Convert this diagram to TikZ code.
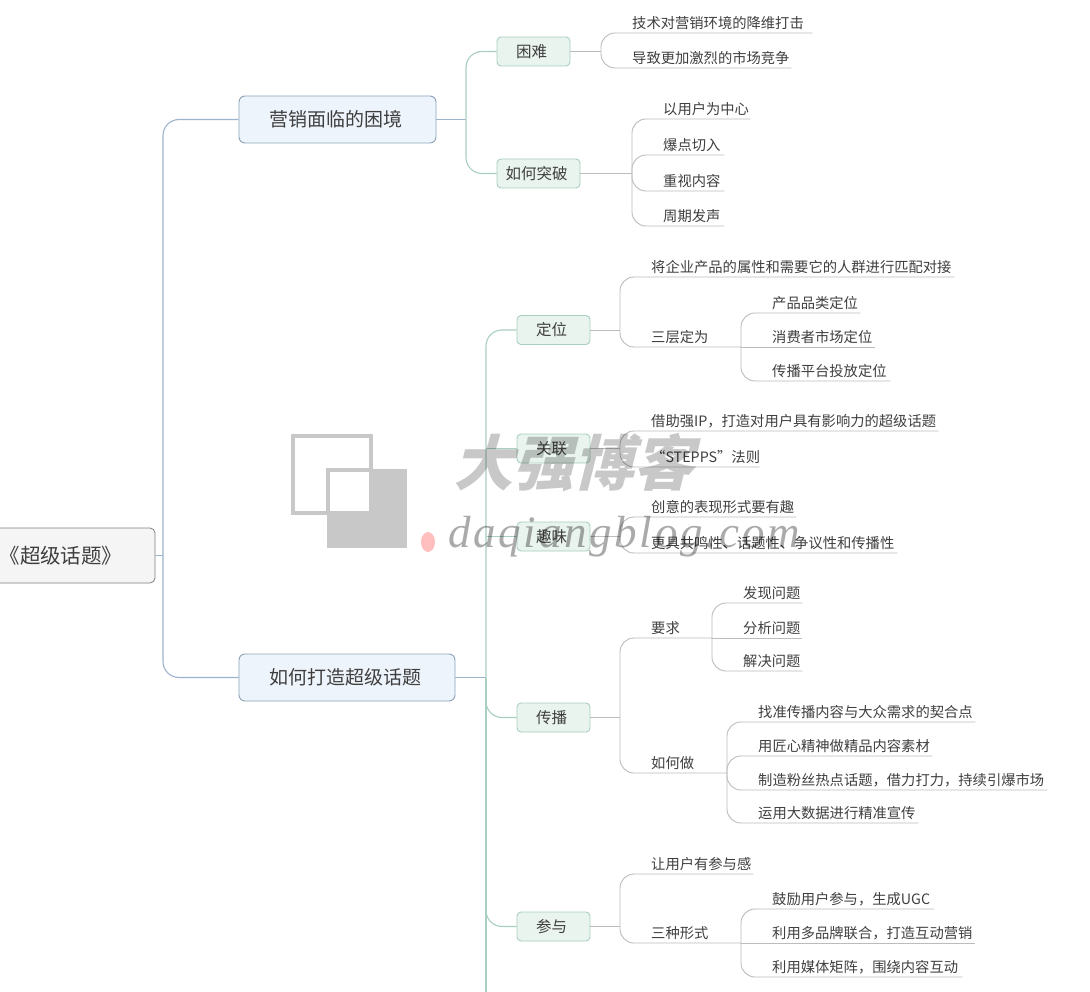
\documentclass[tikz,border=0pt]{standalone}
\usepackage{fontspec}
\usetikzlibrary{positioning}
\setmainfont{Noto Sans CJK SC}
\newfontfamily\wmcjk[FakeSlant=0.25]{Noto Sans CJK SC}
\newfontfamily\wmlatin[LetterSpace=6]{Liberation Serif}
\definecolor{inkc}{HTML}{3F3F3F}
\definecolor{bluel}{HTML}{9DB4CE}
\definecolor{greenl}{HTML}{A9CFC0}
\definecolor{grayl}{HTML}{B9BDBC}
\definecolor{wmc}{HTML}{C8C8C8}
\definecolor{mainf}{HTML}{EEF4FB}
\definecolor{subf}{HTML}{E9F4EE}
\begin{document}
\begin{tikzpicture}[x=1pt,y=-1pt]
        \tikzset{
            rootbox/.style={draw=black!50,fill=black!4,rounded corners=5,minimum width=188,minimum height=55,font=\fontsize{20.5}{22}\selectfont,text=inkc,line width=0.8},
            mainbox/.style={draw=bluel!90!black,fill=mainf,rounded corners=6,minimum height=47,font=\fontsize{19}{19}\selectfont,text=inkc,line width=0.9,execute at end node={\kern4pt}},
            subbox/.style={draw=greenl,fill=subf,rounded corners=4,minimum height=29,font=\fontsize{15.5}{16}\selectfont,text=inkc,line width=0.9,execute at end node={\kern4pt}},
            leaf/.style={anchor=south west,inner xsep=0,inner ysep=1.5,text height=12,text depth=2.5,font=\fontsize{14.3}{15}\selectfont,text=inkc},
            wideleaf/.style={leaf,text width=#1},
            bluelink/.style={draw=bluel,line width=1.1,rounded corners=16},
            greenlink/.style={draw=greenl,line width=1.1,rounded corners=16},
            graylink/.style={draw=grayl,line width=0.9,rounded corners=14}
        }
        \useasboundingbox (0,0) rectangle (1090,992);
        \fill[white] (0,0) rectangle (1090,992);

        % watermark squares
        \fill[wmc] (327,469) rectangle (407,548);
        \draw[wmc,line width=3.5] (293,436) rectangle (371,513);
        \draw[wmc,line width=3.5,fill=white] (328,470) rectangle (371,513);
        \fill[red!25] (428,542) ellipse (7 and 10);

        \node[rootbox] (root) at (61,555.5) {《超级话题》};
        \node[mainbox,minimum width=197] (kunjing) at (337.5,119.5) {营销面临的困境};
        \node[mainbox,minimum width=216] (dazao) at (347,677.5) {如何打造超级话题};

        \node[subbox,minimum width=73] (kunnan) at (533.5,51.5) {困难};
        \node[subbox,minimum width=83] (tupo) at (538.5,173.5) {如何突破};
        \node[subbox,minimum width=73] (dingwei) at (553.5,330) {定位};
        \node[subbox,minimum width=73] (guanlian) at (553.5,448.5) {关联};
        \node[subbox,minimum width=73] (quwei) at (553.5,536.5) {趣味};
        \node[subbox,minimum width=73] (chuanbo) at (553.5,717.5) {传播};
        \node[subbox,minimum width=73] (canyu) at (553.5,926.5) {参与};

        \coordinate (rootj) at (163,555.5);
        \coordinate (kunjingj) at (466,119.5);
        \coordinate (dazaoj) at (486,677.5);
        \coordinate (trunkend) at (486,1000);
        \coordinate (kunnanj) at (601,51.5);
        \coordinate (tupoj) at (632,173.5);
        \coordinate (dingweij) at (620,330);
        \coordinate (guanlianj) at (620,448.5);
        \coordinate (quweij) at (620,536.5);
        \coordinate (chuanboj) at (620,717.5);
        \coordinate (canyuj) at (620,926.5);
        \coordinate (sancengj) at (741,347);
        \coordinate (yaoqiuj) at (712,638);
        \coordinate (ruhezuoj) at (727,773);
        \coordinate (xingshij) at (741,943);

        % first level
        \draw[bluelink] (root.east) -- (rootj);
        \draw[bluelink] (rootj) |- (kunjing.west);
        \draw[bluelink] (rootj) |- (dazao.west);

        \draw[bluelink] (kunjing.east) -- (kunjingj);
        \draw[greenlink] (kunjingj) |- (kunnan.west);
        \draw[greenlink] (kunjingj) |- (tupo.west);

        \draw[bluelink] (dazao.east) -- (dazaoj);
        \draw[greenlink] (dazaoj) |- (dingwei.west);
        \draw[greenlink] (guanlian.west -| dazaoj) -- (guanlian.west);
        \draw[greenlink] (quwei.west -| dazaoj) -- (quwei.west);
        \draw[greenlink] (dazaoj) |- (chuanbo.west);
        \draw[greenlink] (dazaoj) |- (canyu.west);
        \draw[greenlink] (dazaoj) -- (trunkend);

        % kunnan
        \node[wideleaf=180] (jishu) at (632,33) {技术对营销环境的降维打击};
        \node[wideleaf=159] (daozhi) at (632,68) {导致更加激烈的市场竞争};
        \draw[graylink] (kunnan.east) -- (kunnanj);
        \draw[graylink] (kunnanj) |- (jishu.south west) -- (jishu.south east);
        \draw[graylink] (kunnanj) |- (daozhi.south west) -- (daozhi.south east);

        % tupo
        \node[wideleaf=87] (yonghu) at (663,119) {以用户为中心};
        \node[wideleaf=61] (baodian) at (663,155) {爆点切入};
        \node[wideleaf=61] (neirong) at (663,191) {重视内容};
        \node[wideleaf=61] (zhouqi) at (663,226) {周期发声};
        \draw[graylink] (tupo.east) -- (tupoj);
        \draw[graylink] (tupoj) |- (yonghu.south west) -- (yonghu.south east);
        \draw[graylink] (tupoj) |- (baodian.south west) -- (baodian.south east);
        \draw[graylink] (tupoj) |- (neirong.south west) -- (neirong.south east);
        \draw[graylink] (tupoj) |- (zhouqi.south west) -- (zhouqi.south east);

        % dingwei
        \node[wideleaf=303] (pipei) at (651,277) {将企业产品的属性和需要它的人群进行匹配对接};
        \node[leaf] (sanceng) at (651,347) {三层定为};
        \node[wideleaf=88] (pinlei) at (772,313) {产品品类定位};
        \node[wideleaf=103] (shichang) at (772,347) {消费者市场定位};
        \node[wideleaf=118] (pingtai) at (772,381) {传播平台投放定位};
        \draw[graylink] (dingwei.east) -- (dingweij);
        \draw[graylink] (dingweij) |- (pipei.south west) -- (pipei.south east);
        \draw[graylink] (dingweij) |- (sanceng.south west) -- (sancengj);
        \draw[graylink] (sancengj) |- (pinlei.south west) -- (pinlei.south east);
        \draw[graylink] (sancengj) -- (shichang.south east);
        \draw[graylink] (sancengj) |- (pingtai.south west) -- (pingtai.south east);

        % guanlian
        \node[wideleaf=287] (qiangip) at (651,431) {借助强IP，打造对用户具有影响力的超级话题};
        \node[wideleaf=108] (stepps) at (651,467) {“STEPPS”法则};
        \draw[graylink] (guanlian.east) -- (guanlianj);
        \draw[graylink] (guanlianj) |- (qiangip.south west) -- (qiangip.south east);
        \draw[graylink] (guanlianj) |- (stepps.south west) -- (stepps.south east);

        % quwei
        \node[wideleaf=145] (chuangyi) at (651,517) {创意的表现形式要有趣};
        \node[wideleaf=246] (gongming) at (651,553) {更具共鸣性、话题性、争议性和传播性};
        \draw[graylink] (quwei.east) -- (quweij);
        \draw[graylink] (quweij) |- (chuangyi.south west) -- (chuangyi.south east);
        \draw[graylink] (quweij) |- (gongming.south west) -- (gongming.south east);

        % chuanbo
        \node[leaf] (yaoqiu) at (651,638) {要求};
        \node[leaf] (ruhezuo) at (651,773) {如何做};
        \node[wideleaf=59] (faxian) at (743,603) {发现问题};
        \node[wideleaf=59] (fenxi) at (743,638) {分析问题};
        \node[wideleaf=59] (jiejue) at (743,671) {解决问题};
        \node[wideleaf=217] (qihe) at (758,722) {找准传播内容与大众需求的契合点};
        \node[wideleaf=174] (jiangxin) at (758,756) {用匠心精神做精品内容素材};
        \node[wideleaf=289] (fensi) at (758,790) {制造粉丝热点话题，借力打力，持续引爆市场};
        \node[wideleaf=160] (dashuju) at (758,823) {运用大数据进行精准宣传};
        \draw[graylink] (chuanbo.east) -- (chuanboj);
        \draw[graylink] (chuanboj) |- (yaoqiu.south west) -- (yaoqiuj);
        \draw[graylink] (chuanboj) |- (ruhezuo.south west) -- (ruhezuoj);
        \draw[graylink] (yaoqiuj) |- (faxian.south west) -- (faxian.south east);
        \draw[graylink] (yaoqiuj) -- (fenxi.south east);
        \draw[graylink] (yaoqiuj) |- (jiejue.south west) -- (jiejue.south east);
        \draw[graylink] (ruhezuoj) |- (qihe.south west) -- (qihe.south east);
        \draw[graylink] (ruhezuoj) |- (jiangxin.south west) -- (jiangxin.south east);
        \draw[graylink] (ruhezuoj) |- (fensi.south west) -- (fensi.south east);
        \draw[graylink] (ruhezuoj) |- (dashuju.south west) -- (dashuju.south east);

        % canyu
        \node[wideleaf=102] (cangyugan) at (651,874) {让用户有参与感};
        \node[leaf] (xingshi) at (651,943) {三种形式};
        \node[wideleaf=162] (guli) at (772,909) {鼓励用户参与，生成UGC};
        \node[wideleaf=203] (duopinpai) at (772,943) {利用多品牌联合，打造互动营销};
        \node[wideleaf=190] (juzhen) at (772,977) {利用媒体矩阵，围绕内容互动};
        \draw[graylink] (canyu.east) -- (canyuj);
        \draw[graylink] (canyuj) |- (cangyugan.south west) -- (cangyugan.south east);
        \draw[graylink] (canyuj) |- (xingshi.south west) -- (xingshij);
        \draw[graylink] (xingshij) |- (guli.south west) -- (guli.south east);
        \draw[graylink] (xingshij) -- (duopinpai.south east);
        \draw[graylink] (xingshij) |- (juzhen.south west) -- (juzhen.south east);

        % watermark text
        \begin{scope}[blend mode=multiply]
        \node[text=wmc,font=\wmcjk\bfseries\fontsize{60}{60}\selectfont] (wmtitle) at (573,463) {大强博客};
        \node[text=wmc!85!black,font=\wmlatin\itshape\fontsize{45}{45}\selectfont] (wmurl) at (624,537) {daqiangblog.com};
        \end{scope}

    \end{tikzpicture}
\end{document}
